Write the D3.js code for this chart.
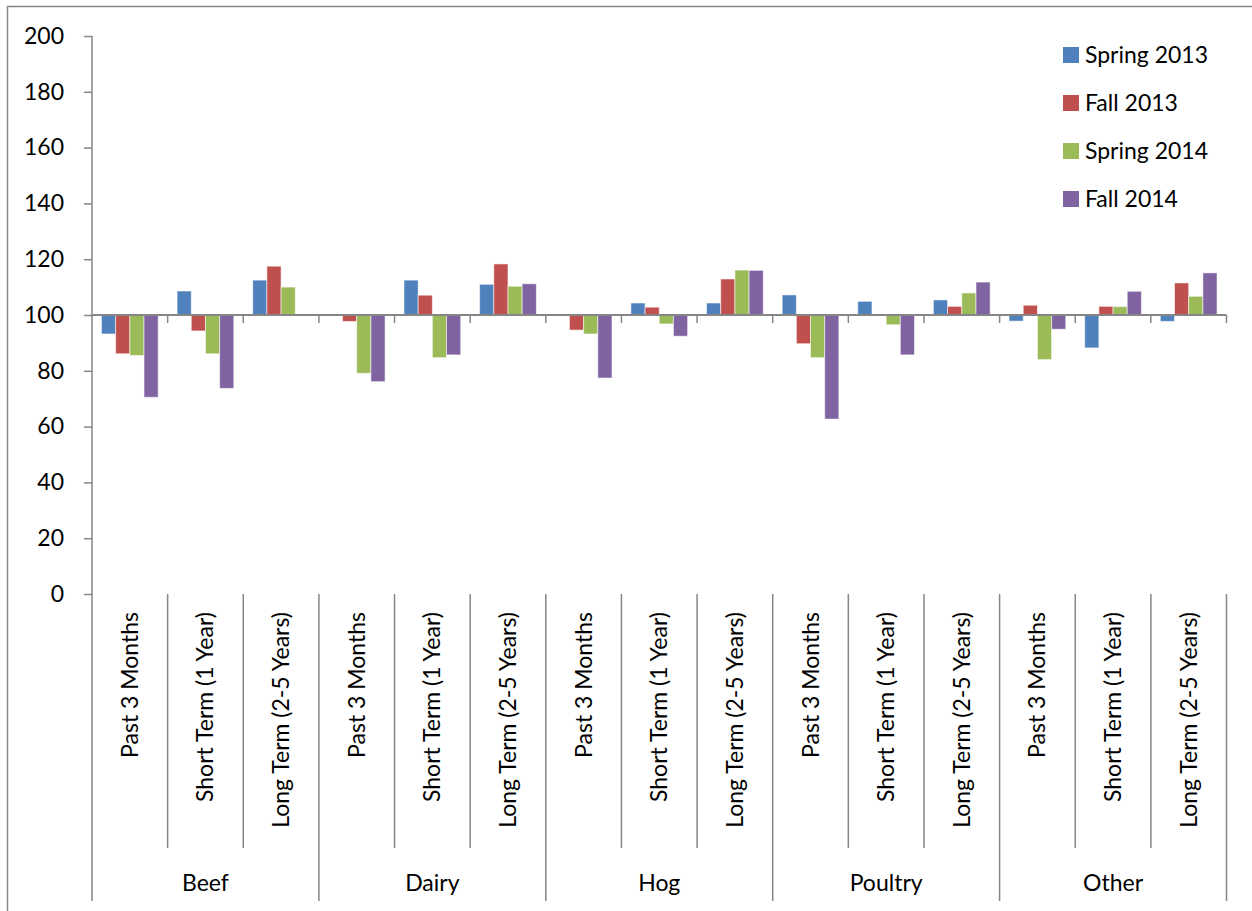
<!DOCTYPE html>
<html>
<head>
<meta charset="utf-8">
<script src="https://cdn.jsdelivr.net/npm/d3@7"></script>
<style>
  html, body { margin: 0; padding: 0; background: #fff; }
  svg { display: block; font-family: Lato, "Open Sans", "Liberation Sans", sans-serif; }
</style>
</head>
<body>
<svg id="chart" width="1252" height="911"></svg>
<script>
// Sectors and horizons on the category axis
const groups = ["Beef", "Dairy", "Hog", "Poultry", "Other"];
const horizons = ["Past 3 Months", "Short Term (1 Year)", "Long Term (2-5 Years)"];

// Survey rounds (series)
const seriesNames = ["Spring 2013", "Fall 2013", "Spring 2014", "Fall 2014"];
const seriesColors = ["#4F81BD", "#C0504D", "#9BBB59", "#8064A2"];

// Index values, one per sector/horizon (Beef x3, Dairy x3, Hog x3, Poultry x3, Other x3); null = not reported
const spring2013 = [93.2, 108.6, 112.5,  null, 112.5, 111.0,  null, 104.3, 104.3, 107.2, 104.9, 105.4, 97.8, 88.2, 97.7];
const fall2013   = [86.1,  94.3, 117.5,  97.7, 107.1, 118.3, 94.6, 102.8, 112.9,  89.7,  null, 103.1, 103.5, 103.1, 111.5];
const spring2014 = [85.5,  86.1, 110.0,  79.1,  84.7, 110.3, 93.2,  96.8, 116.1,  84.7,  96.5, 107.9, 84.0, 103.0, 106.7];
const fall2014   = [70.5,  73.7,  null,  76.1,  85.7, 111.2, 77.4,  92.4, 116.0,  62.7,  85.7, 111.8, 94.9, 108.5, 115.1];

const seriesValues = [spring2013, fall2013, spring2014, fall2014];
const yTicks = [0, 20, 40, 60, 80, 100, 120, 140, 160, 180, 200];
const baseline = 100;

const svg = d3.select("#chart");
const axisColor = "#868686";
const fontSize = "23px";

// Outer chart frame
svg.append("rect")
  .attr("x", 7.5).attr("y", 6.5)
  .attr("width", 1300).attr("height", 1000)
  .attr("fill", "none").attr("stroke", axisColor).attr("stroke-width", 1.5);

const plot = { left: 92, right: 1226.5, top: 36, bottom: 594 };

const categories = [];
groups.forEach(g => horizons.forEach(h => categories.push(g + "|" + h)));

const x = d3.scaleBand().domain(categories).range([plot.left, plot.right]).paddingInner(0).paddingOuter(0);
const y = d3.scaleLinear().domain([0, 200]).range([plot.bottom, plot.top]);

// Bars are placed inside each band with Excel-like gap width
const bw = x.bandwidth();
const gapFrac = 0.25;
const inner = d3.scaleBand().domain(seriesNames)
  .range([bw * gapFrac / 2, bw * (1 - gapFrac / 2)]).padding(0);

// Y axis
const yAxis = d3.axisLeft(y).tickValues(yTicks).tickSize(8).tickPadding(20).tickFormat(d3.format("d"));
const yg = svg.append("g").attr("transform", `translate(${plot.left},0)`).call(yAxis);
yg.select(".domain").remove();
yg.selectAll(".tick line").attr("stroke", axisColor).attr("stroke-width", 1.5);
yg.selectAll(".tick text").attr("fill", "#000").style("font-size", fontSize)
  .style("font-family", "Lato, 'Open Sans', sans-serif");
svg.append("line")
  .attr("x1", plot.left).attr("x2", plot.left)
  .attr("y1", plot.top).attr("y2", 901)
  .attr("stroke", axisColor).attr("stroke-width", 1.5);

// Bars, grown from the 100 baseline
const barData = [];
seriesValues.forEach((vals, si) => {
  vals.forEach((v, ci) => {
    if (v !== null) barData.push({ s: si, c: categories[ci], v });
  });
});

svg.append("g").selectAll("rect")
  .data(barData)
  .join("rect")
  .attr("x", d => x(d.c) + inner(seriesNames[d.s]))
  .attr("width", inner.bandwidth())
  .attr("y", d => Math.min(y(d.v), y(baseline)))
  .attr("height", d => Math.abs(y(d.v) - y(baseline)))
  .attr("fill", d => seriesColors[d.s])
  .attr("stroke", "rgba(255,255,255,0.55)")
  .attr("stroke-width", 1);

// Horizontal axis at the baseline with tick marks at band boundaries
svg.append("line")
  .attr("x1", plot.left).attr("x2", plot.right)
  .attr("y1", y(baseline)).attr("y2", y(baseline))
  .attr("stroke", axisColor).attr("stroke-width", 2);
const boundaries = categories.map(c => x(c) + bw);
svg.append("g").selectAll("line")
  .data(boundaries)
  .join("line")
  .attr("x1", d => d).attr("x2", d => d)
  .attr("y1", y(baseline)).attr("y2", y(baseline) + 8)
  .attr("stroke", axisColor).attr("stroke-width", 1.5);

// Multi-level category axis at the bottom
const catAxis = svg.append("g");
categories.forEach((c, i) => {
  const isGroupEnd = (i + 1) % horizons.length === 0;
  const xb = x(c) + bw;
  catAxis.append("line")
    .attr("x1", xb).attr("x2", xb)
    .attr("y1", plot.bottom).attr("y2", isGroupEnd ? 901 : 848)
    .attr("stroke", axisColor).attr("stroke-width", 1.5);
});

catAxis.selectAll("text.horizon")
  .data(categories)
  .join("text")
  .attr("class", "horizon")
  .attr("transform", d => `translate(${x(d) + bw / 2 + 8},612) rotate(-90)`)
  .attr("text-anchor", "end")
  .style("font-size", fontSize)
  .attr("fill", "#000")
  .text(d => d.split("|")[1]);

catAxis.selectAll("text.group")
  .data(groups)
  .join("text")
  .attr("class", "group")
  .attr("x", g => {
    const first = x(g + "|" + horizons[0]);
    return first + bw * horizons.length / 2;
  })
  .attr("y", 891)
  .attr("text-anchor", "middle")
  .style("font-size", fontSize)
  .attr("fill", "#000")
  .text(g => g);

// Legend
const legend = svg.append("g").attr("transform", "translate(1063,55)");
seriesNames.forEach((name, i) => {
  const row = legend.append("g").attr("transform", `translate(0,${i * 48})`);
  row.append("rect").attr("x", 0).attr("y", -8).attr("width", 16).attr("height", 16)
    .attr("fill", seriesColors[i]);
  row.append("text").attr("x", 22).attr("y", 8)
    .style("font-size", fontSize).attr("fill", "#000").text(name);
});
</script>
</body>
</html>
